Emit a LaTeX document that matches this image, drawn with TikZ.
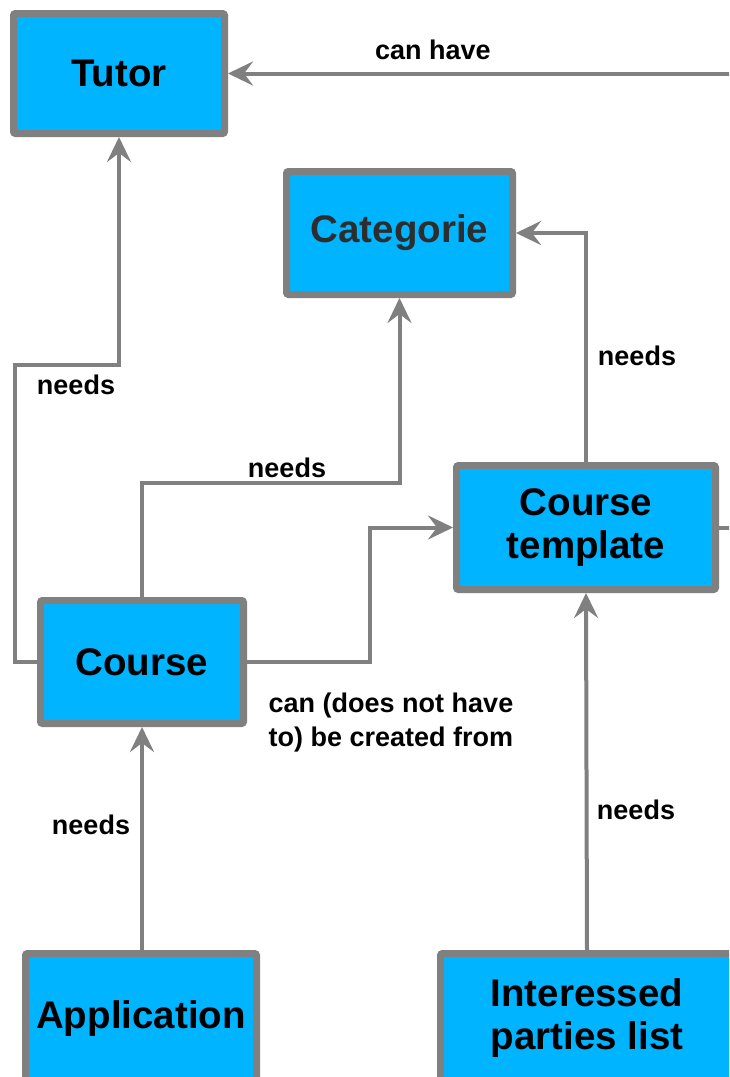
\documentclass[tikz,border=0pt]{standalone}
\usepackage{fontspec}
\setmainfont{Liberation Sans}
\usetikzlibrary{arrows.meta}
\definecolor{boxfill}{RGB}{0,180,255}
\definecolor{edgegray}{RGB}{128,128,128}
\definecolor{darktext}{RGB}{45,45,45}
\tikzset{
  box/.style={draw=edgegray, line width=7pt, fill=boxfill, rounded corners=2pt,
    align=center, inner sep=0pt, font=\fontsize{38.5}{43}\selectfont\bfseries},
  conn/.style={draw=edgegray, line width=4pt,
    -{Stealth[length=25pt,width=24pt,inset=9pt]}},
  lbl/.style={font=\fontsize{27}{34}\selectfont\bfseries, align=center, inner sep=1pt}
}
\begin{document}
\begin{tikzpicture}[x=1pt,y=-1pt]
\useasboundingbox (0,0) rectangle (729,1077);
\clip (0,0) rectangle (729,1077);
\fill[white] (0,0) rectangle (729,1077);
% nodes
\node[box, minimum width=211pt, minimum height=120pt] (tutor) at (119,73.5) {Tutor};
\node[box, minimum width=226pt, minimum height=123pt, text=darktext] (cat) at (399.5,233) {Categorie};
\node[box, minimum width=259pt, minimum height=124pt] (tmpl) at (586,527.5) {Course\\template};
\node[box, minimum width=203pt, minimum height=123pt] (course) at (142,662) {Course};
\node[box, minimum width=231pt, minimum height=130pt] (app) at (141,1018.5) {Application};
\node[box, minimum width=293pt, minimum height=130pt] (ipl) at (587,1018.5) {Interessed\\parties list};
% connectors
\draw[conn] (tmpl.east) -- (760,527.5) -- (760,73.5) -- (tutor.east);
\draw[conn] (course.west) -- (15,662) -- (15,365) -- (tutor.south |- 0,365) -- (tutor.south);
\draw[conn] (course.north) -- (142,483) -| (cat.south);
\draw[conn] (course.east) -- (370,662) |- (tmpl.west);
\draw[conn] (tmpl.north) |- (cat.east);
\draw[conn] (app.north -| course.south) -- (course.south);
\draw[conn] (ipl.north) -- (tmpl.south);
% labels
\node[lbl] (l1) at (433,50) {can have};
\node[lbl] (l2) at (76,385) {needs};
\node[lbl] (l3) at (287,468) {needs};
\node[lbl] (l4) at (637,356) {needs};
\node[lbl] (l5) at (391,723) {can (does not have\\to) be created from};
\node[lbl] (l6) at (91,825) {needs};
\node[lbl] (l7) at (636,810) {needs};
\end{tikzpicture}
\end{document}
